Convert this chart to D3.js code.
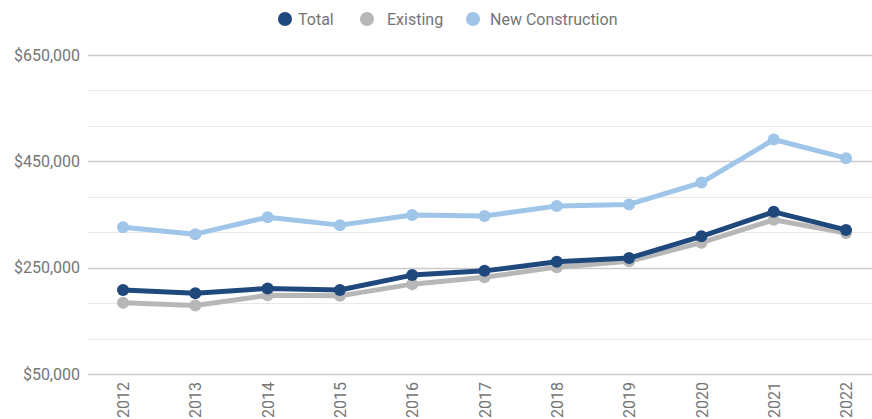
<!DOCTYPE html>
<html>
<head>
<meta charset="utf-8">
<script src="https://cdn.jsdelivr.net/npm/d3@7"></script>
<style>
  body { margin: 0; background: #fff; }
  text { font-family: Roboto, "Noto Sans", sans-serif; }
</style>
</head>
<body>
<svg id="chart"></svg>
<script>
// chart data
const years = ["2012", "2013", "2014", "2015", "2016", "2017", "2018", "2019", "2020", "2021", "2022"];
const totalValues = [208000, 202000, 211000, 208000, 236000, 244000, 261000, 268000, 309000, 355000, 321000];
const existingValues = [184000, 179000, 198000, 197000, 219000, 232000, 251000, 262000, 297000, 340000, 315000];
const newConstructionValues = [326000, 313000, 345000, 330000, 349000, 347000, 366000, 369000, 410000, 491000, 456000];
const yTicks = [50000, 250000, 450000, 650000];

const seriesList = [
    { name: "Total", values: totalValues, color: "#1f497d" },
    { name: "Existing", values: existingValues, color: "#b7b7b7" },
    { name: "New Construction", values: newConstructionValues, color: "#9fc5e8" }
];

var width = 872, height = 419;
var margin = { top: 55, right: 0, bottom: 45, left: 88 };

const svg = d3.select("#chart")
    .attr("width", width)
    .attr("height", height);

const x = d3.scalePoint()
    .domain(years)
    .range([123, 846]);

const y = d3.scaleLinear()
    .domain([50000, 650000])
    .range([height - margin.bottom, margin.top]);

// gridlines: minor every third of a label step
var gridValues = d3.range(0, 10).map(function (i) { return 50000 + i * 200000 / 3; });
svg.append("g")
    .selectAll("line")
    .data(gridValues)
    .enter().append("line")
    .attr("x1", margin.left)
    .attr("x2", width)
    .attr("y1", function (d) { return Math.round(y(d)) + 0.5; })
    .attr("y2", function (d) { return Math.round(y(d)) + 0.5; })
    .attr("stroke", function (d, i) { return i % 3 === 0 ? "#cccccc" : "#e8e8e8"; })
    .attr("stroke-width", function (d, i) { return i % 3 === 0 ? 1.5 : 1; });

// Y axis labels
const yAxis = svg.append("g")
    .attr("transform", `translate(${margin.left - 8},0)`)
    .call(d3.axisLeft(y).tickValues(yTicks).tickSize(0).tickPadding(0)
        .tickFormat(function (d) { return "$" + d3.format(",")(d); }));
yAxis.select(".domain").remove();
yAxis.selectAll("text")
    .attr("fill", "#757575")
    .style("font-size", "16px");

// X axis labels, rotated
const xAxis = svg.append("g")
    .attr("transform", `translate(0, ${height - margin.bottom})`)
    .call(d3.axisBottom(x).tickSize(0));
xAxis.select(".domain").remove();
xAxis.selectAll("text")
    .attr("transform", "rotate(-90)")
    .attr("text-anchor", "end")
    .attr("x", -8)
    .attr("y", 0)
    .attr("dy", "0.35em")
    .attr("fill", "#757575")
    .style("font-size", "16px");

var line = d3.line()
    .x(function (d, i) { return x(years[i]); })
    .y(function (d) { return y(d); });

// draw series back to front
seriesList.slice().reverse().forEach(function (s) {
    svg.append("path")
        .datum(s.values)
        .attr("fill", "none")
        .attr("stroke", s.color)
        .attr("stroke-width", 5)
        .attr("stroke-linejoin", "round")
        .attr("d", line);

    svg.selectAll(null)
        .data(s.values)
        .enter().append("circle")
        .attr("cx", function (d, i) { return x(years[i]); })
        .attr("cy", function (d) { return y(d); })
        .attr("r", 6)
        .attr("fill", s.color);
});

// legend
var legendCircleX = [285, 367, 473];
var legendTextX = [298, 387, 490];
const legend = svg.append("g");
seriesList.forEach(function (s, i) {
    legend.append("circle")
        .attr("cx", legendCircleX[i])
        .attr("cy", 19)
        .attr("r", 7)
        .attr("fill", s.color);
    legend.append("text")
        .attr("x", legendTextX[i])
        .attr("y", 19)
        .attr("dy", "0.35em")
        .attr("fill", "#757575")
        .style("font-size", "16px")
        .text(s.name);
});
</script>
</body>
</html>
